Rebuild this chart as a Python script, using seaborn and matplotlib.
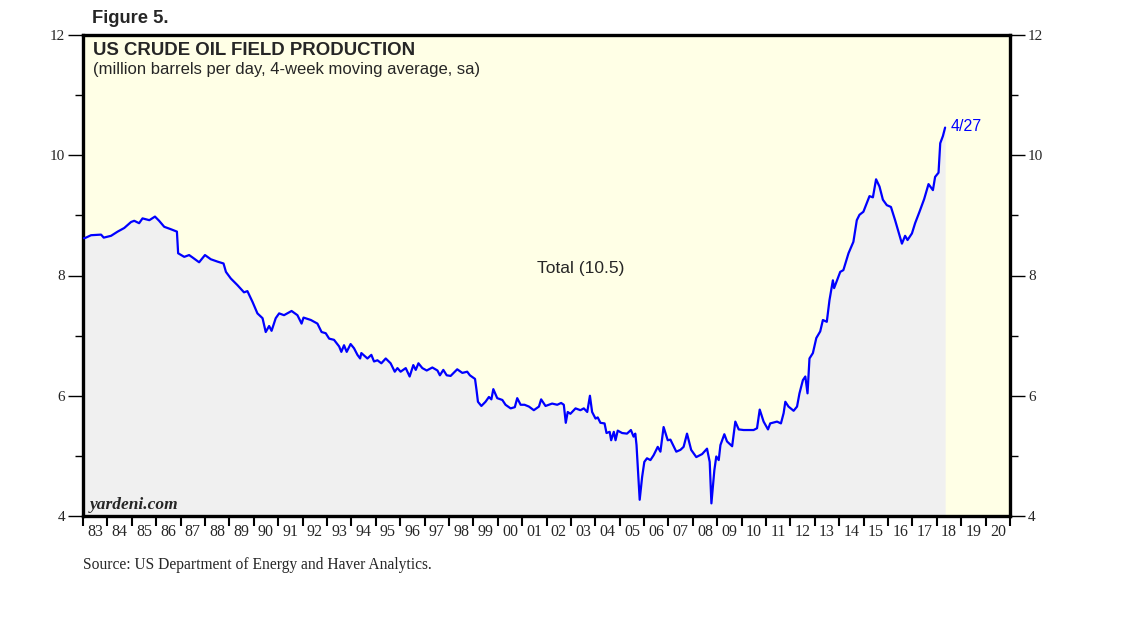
import pandas as pd
import matplotlib.pyplot as plt
import seaborn as sns
from matplotlib.ticker import FixedLocator, MultipleLocator

# Weekly series (decimal year, million barrels per day)
weeks = [
    1983.04, 1983.12, 1983.33, 1983.74, 1983.85, 1984.15, 1984.42, 1984.69, 1984.97, 1985.10,
    1985.30, 1985.44, 1985.72, 1985.95, 1986.12, 1986.33, 1986.60, 1986.85, 1986.90, 1987.15,
    1987.35, 1987.49, 1987.76, 1988.00, 1988.24, 1988.52, 1988.76, 1988.86, 1989.06, 1989.33,
    1989.60, 1989.74, 1989.95, 1990.15, 1990.36, 1990.49, 1990.63, 1990.73, 1990.90, 1991.04,
    1991.24, 1991.55, 1991.79, 1991.96, 1992.04, 1992.34, 1992.61, 1992.78, 1992.95, 1993.09,
    1993.29, 1993.50, 1993.59, 1993.70, 1993.81, 1993.97, 1994.11, 1994.25, 1994.36, 1994.41,
    1994.66, 1994.82, 1994.93, 1995.07, 1995.23, 1995.41, 1995.61, 1995.78, 1995.89, 1996.02,
    1996.23, 1996.39, 1996.54, 1996.64, 1996.75, 1996.91, 1997.09, 1997.32, 1997.53, 1997.63,
    1997.77, 1997.91, 1998.07, 1998.34, 1998.55, 1998.75, 1998.86, 1999.07, 1999.13, 1999.19,
    1999.33, 1999.50, 1999.64, 1999.74, 1999.82, 1999.98, 2000.19, 2000.32, 2000.53, 2000.70,
    2000.80, 2000.94, 2001.10, 2001.28, 2001.48, 2001.69, 2001.78, 2001.96, 2002.23, 2002.44,
    2002.60, 2002.71, 2002.79, 2002.87, 2002.98, 2003.19, 2003.39, 2003.53, 2003.67, 2003.78,
    2003.87, 2004.01, 2004.10, 2004.21, 2004.38, 2004.46, 2004.59, 2004.65, 2004.76, 2004.83,
    2004.92, 2005.10, 2005.30, 2005.46, 2005.57, 2005.64, 2005.69, 2005.82, 2005.92, 2006.01,
    2006.12, 2006.26, 2006.39, 2006.56, 2006.67, 2006.80, 2006.97, 2007.08, 2007.32, 2007.49,
    2007.62, 2007.76, 2007.93, 2008.14, 2008.38, 2008.58, 2008.69, 2008.76, 2008.88, 2008.96,
    2009.06, 2009.13, 2009.29, 2009.40, 2009.61, 2009.74, 2009.88, 2010.08, 2010.29, 2010.49,
    2010.63, 2010.74, 2010.90, 2011.08, 2011.17, 2011.45, 2011.61, 2011.72, 2011.79, 2011.92,
    2012.13, 2012.27, 2012.37, 2012.51, 2012.61, 2012.70, 2012.78, 2012.92, 2013.06, 2013.22,
    2013.33, 2013.49, 2013.60, 2013.74, 2013.79, 2014.04, 2014.17, 2014.38, 2014.58, 2014.72,
    2014.83, 2014.99, 2015.24, 2015.38, 2015.51, 2015.65, 2015.79, 2015.95, 2016.12, 2016.29,
    2016.47, 2016.57, 2016.70, 2016.80, 2016.98, 2017.11, 2017.29, 2017.48, 2017.66, 2017.75,
    2017.84, 2017.93, 2018.07, 2018.14, 2018.25, 2018.34,
]
production = [
    8.62, 8.63, 8.67, 8.68, 8.63, 8.66, 8.73, 8.79, 8.89, 8.91,
    8.87, 8.95, 8.92, 8.98, 8.91, 8.81, 8.77, 8.73, 8.37, 8.31,
    8.34, 8.30, 8.22, 8.34, 8.27, 8.23, 8.20, 8.06, 7.95, 7.84,
    7.72, 7.74, 7.56, 7.37, 7.29, 7.06, 7.16, 7.08, 7.29, 7.37,
    7.34, 7.41, 7.34, 7.20, 7.30, 7.26, 7.20, 7.06, 7.04, 6.95,
    6.93, 6.82, 6.73, 6.84, 6.73, 6.86, 6.79, 6.68, 6.62, 6.71,
    6.62, 6.68, 6.57, 6.59, 6.54, 6.62, 6.54, 6.40, 6.46, 6.40,
    6.46, 6.32, 6.51, 6.43, 6.54, 6.46, 6.42, 6.47, 6.42, 6.34,
    6.43, 6.34, 6.33, 6.44, 6.38, 6.40, 6.34, 6.28, 6.10, 5.90,
    5.83, 5.90, 5.98, 5.94, 6.11, 5.96, 5.93, 5.85, 5.79, 5.81,
    5.96, 5.85, 5.85, 5.82, 5.76, 5.82, 5.94, 5.83, 5.87, 5.85,
    5.88, 5.85, 5.55, 5.73, 5.70, 5.79, 5.76, 5.79, 5.73, 6.00,
    5.73, 5.62, 5.64, 5.55, 5.54, 5.38, 5.40, 5.26, 5.40, 5.26,
    5.42, 5.38, 5.37, 5.43, 5.32, 5.37, 5.18, 4.27, 4.65, 4.90,
    4.96, 4.93, 5.01, 5.15, 5.07, 5.48, 5.26, 5.27, 5.07, 5.10,
    5.15, 5.37, 5.10, 4.98, 5.03, 5.12, 4.90, 4.21, 4.76, 4.99,
    4.93, 5.18, 5.36, 5.24, 5.16, 5.57, 5.44, 5.43, 5.43, 5.43,
    5.46, 5.77, 5.57, 5.44, 5.54, 5.57, 5.54, 5.71, 5.90, 5.82,
    5.75, 5.82, 6.04, 6.26, 6.32, 6.04, 6.62, 6.71, 6.96, 7.07,
    7.26, 7.23, 7.59, 7.92, 7.79, 8.06, 8.09, 8.37, 8.56, 8.92,
    9.01, 9.06, 9.32, 9.30, 9.60, 9.48, 9.26, 9.17, 9.14, 8.92,
    8.67, 8.53, 8.66, 8.59, 8.70, 8.87, 9.06, 9.27, 9.52, 9.47,
    9.42, 9.64, 9.71, 10.20, 10.32, 10.46,
]
year_labels = [f"{y % 100:02d}" for y in range(1983, 2021)]
last_date = "4/27"
series_label = "Total (10.5)"

df = pd.DataFrame({"week": weeks, "production": production})

sns.set_style("white")
plt.rcParams["font.family"] = ["Liberation Sans", "DejaVu Sans"]

fig = plt.figure(figsize=(11.38, 6.21), dpi=100)
ax = fig.add_axes([83 / 1138, 1 - 516 / 621, 927 / 1138, 481 / 621])
ax.set_facecolor("#ffffe6")

ax.fill_between(df["week"], 4, df["production"], color="#f0f0f0", lw=0, zorder=1)
sns.lineplot(data=df, x="week", y="production", ax=ax, color="#0000ff",
             lw=1.6, estimator=None, zorder=3)

ax.set_xlim(1983, 2021)
ax.set_ylim(4, 12)
ax.set_xlabel("")
ax.set_ylabel("")

# y axis: labels on both sides, minor ticks at odd values
ax.yaxis.set_major_locator(MultipleLocator(2))
ax.yaxis.set_minor_locator(MultipleLocator(1))
ax.tick_params(axis="y", which="both", direction="out", left=True, right=True,
               labelleft=True, labelright=True, color="black", width=1.0)
ax.tick_params(axis="y", which="major", length=11, pad=2, labelsize=11)
ax.tick_params(axis="y", which="minor", length=6)
for lab in ax.get_yticklabels():
    lab.set_fontfamily("Liberation Serif")

# x axis: ticks at year boundaries, labels centred in each year
ax.xaxis.set_major_locator(FixedLocator(list(range(1983, 2022))))
ax.xaxis.set_minor_locator(FixedLocator([y + 0.5 for y in range(1983, 2021)]))
ax.set_xticklabels([], minor=False)
ax.set_xticklabels(year_labels, minor=True, fontfamily="Liberation Serif", fontsize=11.5)
ax.tick_params(axis="x", which="major", direction="out", length=7, width=1.5,
               color="black", bottom=True)
ax.tick_params(axis="x", which="minor", length=0, pad=6)

for sp in ax.spines.values():
    sp.set_visible(True)
    sp.set_color("black")
    sp.set_linewidth(2.4)

ax.text(0.0108, 0.958, "US CRUDE OIL FIELD PRODUCTION", transform=ax.transAxes,
        fontsize=13.4, fontweight="bold", va="baseline", ha="left")
ax.text(0.0108, 0.919, "(million barrels per day, 4-week moving average, sa)",
        transform=ax.transAxes, fontsize=12, va="baseline", ha="left")
ax.text(2003.4, 8.11, series_label, fontsize=12.5, ha="center", va="center")
ax.text(2018.55, 10.47, last_date, fontsize=11.5, color="#0000ff", ha="left", va="center")
ax.text(0.0075, 0.023, "yardeni.com", transform=ax.transAxes, fontsize=12.5,
        fontfamily="Liberation Serif", fontweight="bold", fontstyle="italic",
        ha="left", va="center")

fig.text(92 / 1138, 1 - 23 / 621, "Figure 5.", fontsize=13.2, fontweight="bold",
         va="baseline", ha="left")
fig.text(83 / 1138, 1 - 569 / 621, "Source: US Department of Energy and Haver Analytics.",
         fontsize=11.2, fontfamily="Liberation Serif", va="baseline", ha="left")

fig.savefig("out.png", dpi=100)
